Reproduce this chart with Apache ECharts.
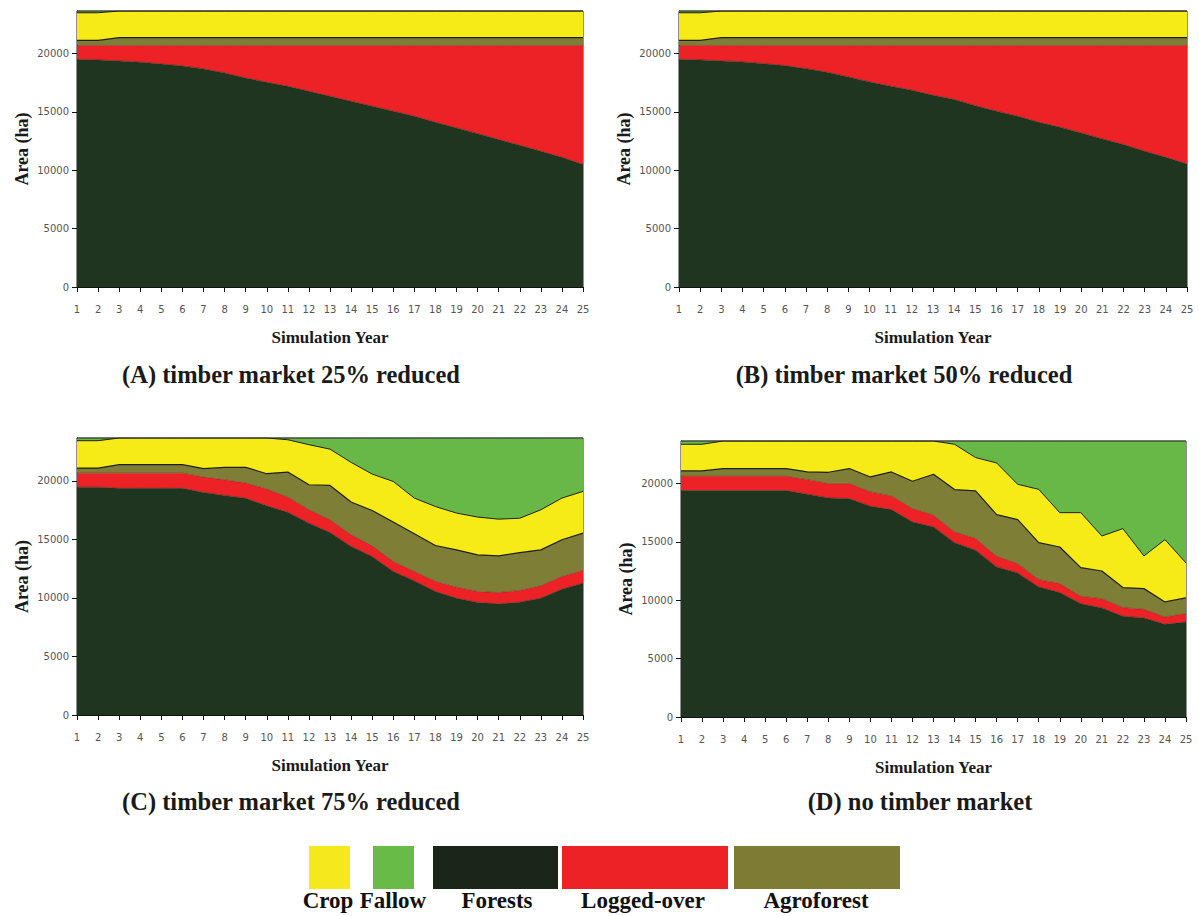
<!DOCTYPE html>
<html><head><meta charset="utf-8">
<script src="https://cdn.jsdelivr.net/npm/echarts@6/dist/echarts.min.js"></script>
<style>html,body{margin:0;padding:0;background:#fff}#c{width:1199px;height:916px}</style>
</head><body><div id="c"></div>
<script>
const years = ['1','2','3','4','5','6','7','8','9','10','11','12','13','14','15','16','17','18','19','20','21','22','23','24','25'];
const yTicks = [0, 5000, 10000, 15000, 20000];
const totalArea = 23650;
const seriesNames = ['Forests', 'Logged-over', 'Agroforest', 'Crop', 'Fallow'];
const panelTitles = ['(A) timber market 25% reduced', '(B) timber market 50% reduced', '(C) timber market 75% reduced', '(D) no timber market'];

// Panel A
const forestsA = [19490,19460,19370,19260,19110,18940,18690,18340,17910,17540,17200,16770,16340,15910,15490,15060,14630,14110,13630,13140,12630,12140,11630,11110,10490];
const loggedA  = [1210,1240,1330,1440,1590,1760,2010,2360,2790,3160,3500,3930,4360,4790,5210,5640,6070,6590,7070,7560,8070,8560,9070,9590,10210];
const agroA    = [430,430,670,670,670,670,670,670,670,670,670,670,670,670,670,670,670,670,670,670,670,670,670,670,670];
const cropA    = [2370,2370,2280,2280,2280,2280,2280,2280,2280,2280,2280,2280,2280,2280,2280,2280,2280,2280,2280,2280,2280,2280,2280,2280,2280];
const fallowA  = [150,150,0,0,0,0,0,0,0,0,0,0,0,0,0,0,0,0,0,0,0,0,0,0,0];
// Panel B
const forestsB = [19490,19460,19370,19290,19140,18970,18710,18400,18000,17570,17200,16860,16430,16060,15540,15060,14630,14110,13690,13200,12690,12200,11630,11110,10540];
const loggedB  = [1210,1240,1330,1410,1560,1730,1990,2300,2700,3130,3500,3840,4270,4640,5160,5640,6070,6590,7010,7500,8010,8500,9070,9590,10160];
const agroB    = [430,430,670,670,670,670,670,670,670,670,670,670,670,670,670,670,670,670,670,670,670,670,670,670,670];
const cropB    = [2370,2370,2280,2280,2280,2280,2280,2280,2280,2280,2280,2280,2280,2280,2280,2280,2280,2280,2280,2280,2280,2280,2280,2280,2280];
const fallowB  = [150,150,0,0,0,0,0,0,0,0,0,0,0,0,0,0,0,0,0,0,0,0,0,0,0];
// Panel C
const forestsC = [19450,19450,19350,19350,19350,19350,19000,18750,18500,17860,17300,16380,15580,14390,13530,12250,11450,10540,9970,9600,9490,9630,9970,10740,11250];
const loggedC  = [1200,1200,1300,1300,1300,1300,1310,1335,1300,1430,1300,1140,1090,990,910,850,800,860,940,940,960,1000,1060,1080,1090];
const agroC    = [430,430,720,720,720,720,720,1055,1340,1310,2140,2140,2930,2800,3020,3370,3220,3070,3190,3135,3140,3240,3070,3140,3190];
const cropC    = [2340,2340,2280,2280,2280,2280,2620,2510,2510,3050,2760,3420,3100,3390,3110,3470,3050,3330,3140,3225,3130,2930,3420,3560,3560];
const fallowC  = [230,230,0,0,0,0,0,0,0,0,150,570,950,2080,3080,3710,5130,5850,6410,6750,6930,6850,6130,5130,4560];
// Panel D
const forestsD = [19400,19400,19400,19400,19400,19400,19090,18770,18710,18060,17770,16710,16290,14940,14290,12860,12340,11140,10660,9710,9340,8630,8490,7940,8140];
const loggedD  = [1230,1230,1230,1230,1230,1230,1250,1230,1290,1230,1170,1150,1000,920,1000,910,800,630,770,630,800,740,740,630,720];
const agroD    = [460,460,660,660,660,660,660,970,1290,1280,2060,2340,3510,3630,4080,3570,3770,3170,3140,2460,2370,1720,1770,1290,1340];
const cropD    = [2280,2280,2360,2360,2360,2360,2650,2680,2360,3080,2650,3450,2850,3880,2860,4430,3030,4570,2940,4710,3000,5050,2800,5340,3000];
const fallowD  = [280,280,0,0,0,0,0,0,0,0,0,0,0,280,1420,1880,3710,4140,6140,6140,8140,7510,9850,8450,10450];

const panels = [
  [forestsA, loggedA, agroA, cropA, fallowA],
  [forestsB, loggedB, agroB, cropB, fallowB],
  [forestsC, loggedC, agroC, cropC, fallowC],
  [forestsD, loggedD, agroD, cropD, fallowD]
];

const areaColors = ['#203520', '#ec2227', '#7e7e36', '#f6ea17', '#68b847'];
const edgeColors = ['#203520', '#8a1a1a', '#1e1e14', '#1e1e14', '#222222'];
const edgeWidths = [0.6, 0.5, 1.2, 1, 1];
const legendColors = ['#f5e81c', '#69bb47', '#1c2519', '#ed2227', '#7e7b35'];

const grids = [
  {left: 77, top: 11, width: 506, height: 276},
  {left: 679, top: 11, width: 508, height: 276},
  {left: 77, top: 438, width: 506, height: 277},
  {left: 681, top: 441, width: 505, height: 276}
];

const serif = '"Liberation Serif", "Times New Roman", serif';
const sans = '"DejaVu Sans", sans-serif';

const xAxes = grids.map((g, i) => ({
  type: 'category', gridIndex: i, data: years, boundaryGap: false,
  name: 'Simulation Year', nameLocation: 'middle', nameGap: 42,
  nameTextStyle: {fontFamily: serif, fontWeight: 'bold', fontSize: 17, color: '#1a1a1a'},
  axisLine: {show: true, lineStyle: {color: '#111', width: 1}},
  axisTick: {show: true, interval: 0, length: 5, lineStyle: {color: '#111'}},
  axisLabel: {interval: 0, margin: 17, fontFamily: sans, fontSize: 10, color: '#555'},
  splitLine: {show: false}
}));

const yAxes = grids.map((g, i) => ({
  type: 'value', gridIndex: i, min: 0, max: totalArea, interval: 5000,
  name: 'Area (ha)', nameLocation: 'middle', nameGap: 46,
  nameTextStyle: {fontFamily: serif, fontWeight: 'bold', fontSize: 18, color: '#1a1a1a'},
  axisLine: {show: true, lineStyle: {color: '#111', width: 1}},
  axisTick: {show: true, length: 5, lineStyle: {color: '#111'}, customValues: yTicks},
  axisLabel: {margin: 8, fontFamily: sans, fontSize: 10, color: '#555', customValues: yTicks,
    formatter: v => String(v)},
  splitLine: {show: false}
}));

const series = [];
panels.forEach((arrs, p) => {
  arrs.forEach((data, k) => {
    series.push({
      type: 'line', name: seriesNames[k], xAxisIndex: p, yAxisIndex: p,
      stack: 'panel' + p, data: data, symbol: 'none', smooth: false,
      lineStyle: {color: edgeColors[k], width: edgeWidths[k]},
      areaStyle: {color: areaColors[k], opacity: 1},
      emphasis: {disabled: true}, silent: true, animation: false
    });
  });
});

const captionPos = [[291, 374], [904, 374], [291, 801], [920, 801]];
const graphics = [];
panelTitles.forEach((t, i) => {
  graphics.push({type: 'text', x: captionPos[i][0], y: captionPos[i][1],
    style: {text: t, fill: '#1a1a1a', font: 'bold 24.5px ' + serif, textAlign: 'center', textVerticalAlign: 'middle'}});
});

const legendBoxes = [[309, 41], [373, 41], [433, 125], [562, 166], [734, 166]];
legendBoxes.forEach((b, i) => {
  graphics.push({type: 'rect', shape: {x: b[0], y: 846, width: b[1], height: 43}, style: {fill: legendColors[i]}});
});
const legendLabels = ['Crop', 'Fallow', 'Forests', 'Logged-over', 'Agroforest'];
const legendLabelX = [328, 393, 497, 643, 816];
legendLabels.forEach((t, i) => {
  graphics.push({type: 'text', x: legendLabelX[i], y: 900,
    style: {text: t, fill: '#111', font: 'bold 23px ' + serif, textAlign: 'center', textVerticalAlign: 'middle'}});
});

const chart = echarts.init(document.getElementById('c'), null, {renderer: 'svg'});
chart.setOption({
  animation: false,
  backgroundColor: '#fff',
  grid: grids.map(g => Object.assign({show: true, borderColor: '#222', borderWidth: 1, backgroundColor: 'transparent'}, g)),
  xAxis: xAxes,
  yAxis: yAxes,
  series: series,
  graphic: graphics
});
</script></body></html>
